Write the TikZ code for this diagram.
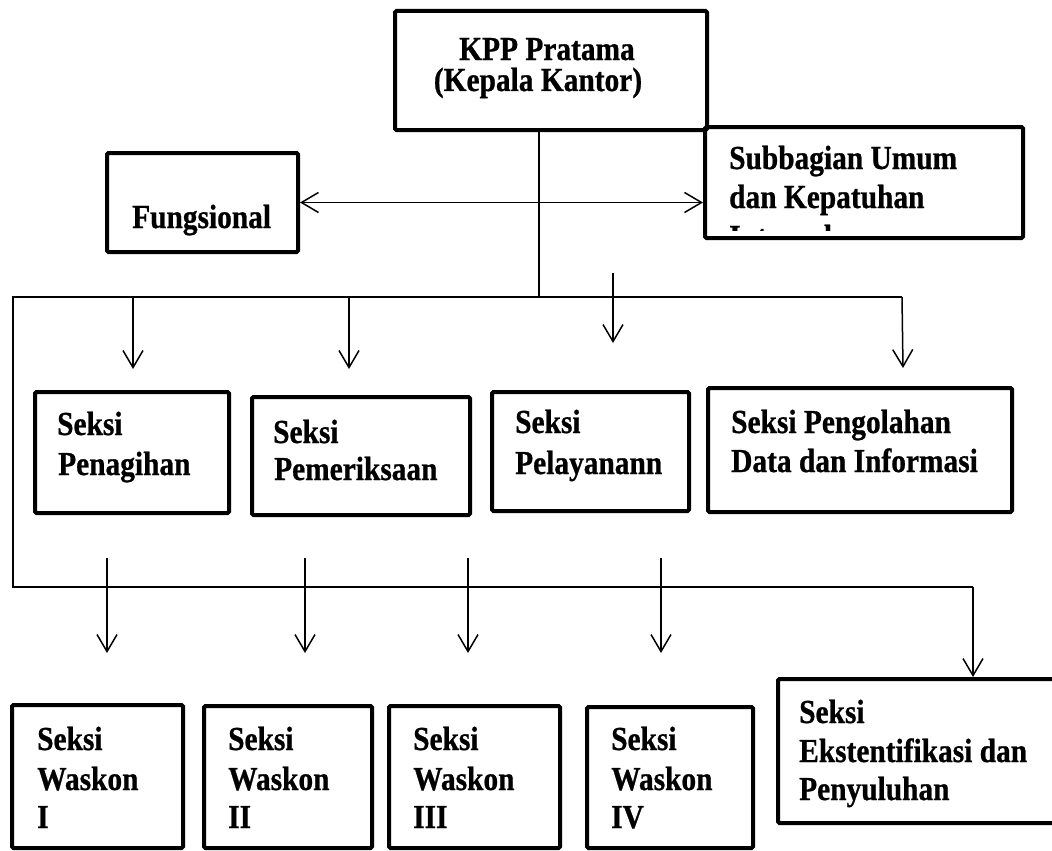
\documentclass[tikz,border=0pt]{standalone}
\usepackage{fontspec}
\usepackage{graphicx}
\setmainfont{Liberation Serif}[BoldFeatures={FakeBold=0.8}]
\usetikzlibrary{arrows.meta}
\newcommand\tallt[1]{\scalebox{0.98}[1.12]{#1}}
\begin{document}
\begin{tikzpicture}[x=1pt,y=-1pt,
  box/.style={draw, line width=4pt, inner sep=0pt, rounded corners=1.5pt},
  txt/.style={anchor=base west, inner sep=0pt, font=\bfseries\fontsize{30}{36}\selectfont},
  ctxt/.style={txt, anchor=base},
  conn/.style={line width=1.5pt},
  arr/.style={conn, -{Straight Barb[length=17pt,width=20pt]}},
  dbl/.style={conn, {Straight Barb[length=17pt,width=20pt]}-{Straight Barb[length=17pt,width=20pt]}}
]
\useasboundingbox (0,0) rectangle (1052,851);
\fill[white] (0,0) rectangle (1052,851);

% boxes
\node[box, minimum width=312pt, minimum height=119pt] (kpp) at (551,70.5) {};
\node[box, minimum width=191pt, minimum height=99pt] (fung) at (202.5,202.5) {};
\node[box, minimum width=318pt, minimum height=111pt] (sub) at (864,182.5) {};
\node[box, minimum width=194pt, minimum height=121pt] (pen) at (132,452.5) {};
\node[box, minimum width=218pt, minimum height=118pt] (pem) at (361,456) {};
\node[box, minimum width=197pt, minimum height=119pt] (pel) at (590.5,451.5) {};
\node[box, minimum width=304pt, minimum height=124pt] (pdi) at (860,450) {};
\node[box, minimum width=171pt, minimum height=143pt] (w1) at (97.5,776.5) {};
\node[box, minimum width=168pt, minimum height=142pt] (w2) at (288,777) {};
\node[box, minimum width=171pt, minimum height=142pt] (w3) at (474.5,777) {};
\node[box, minimum width=166pt, minimum height=141pt] (w4) at (670,777.5) {};
\node[box, minimum width=282pt, minimum height=144pt] (eks) at (919,751) {};

% texts
\node[ctxt] (kppa) at (547,60) {\tallt{KPP Pratama}};
\node[ctxt] (kppb) at (538,91) {\tallt{(Kepala Kantor)}};
\node[txt] (funga) at (132,228) {\tallt{Fungsional}};
\node[txt] (suba) at (729,169) {\tallt{Subbagian Umum}};
\node[txt] (subb) at (729,208) {\tallt{dan Kepatuhan}};
\begin{scope}
  \clip (712,224) rectangle (1015,230);
  \node[txt] (subc) at (729,248) {\tallt{Internal}};
\end{scope}
\node[txt] (pena) at (57,435) {\tallt{Seksi}};
\node[txt] (penb) at (58,475) {\tallt{Penagihan}};
\node[txt] (pema) at (273,443) {\tallt{Seksi}};
\node[txt] (pemb) at (274,480) {\tallt{Pemeriksaan}};
\node[txt] (pela) at (515,433) {\tallt{Seksi}};
\node[txt] (pelb) at (515,474) {\tallt{Pelayanann}};
\node[txt] (pdia) at (731,433) {\tallt{Seksi Pengolahan}};
\node[txt] (pdib) at (731,472) {\tallt{Data dan Informasi}};
\node[txt] (w1a) at (37,750) {\tallt{Seksi}};
\node[txt] (w1b) at (37,790) {\tallt{Waskon}};
\node[txt] (w1c) at (37,828) {\tallt{I}};
\node[txt] (w2a) at (228,750) {\tallt{Seksi}};
\node[txt] (w2b) at (228,790) {\tallt{Waskon}};
\node[txt] (w2c) at (228,828) {\tallt{II}};
\node[txt] (w3a) at (413,750) {\tallt{Seksi}};
\node[txt] (w3b) at (413,790) {\tallt{Waskon}};
\node[txt] (w3c) at (413,828) {\tallt{III}};
\node[txt] (w4a) at (611,750) {\tallt{Seksi}};
\node[txt] (w4b) at (611,790) {\tallt{Waskon}};
\node[txt] (w4c) at (611,828) {\tallt{IV}};
\node[txt] (eksa) at (799,723) {\tallt{Seksi}};
\node[txt] (eksb) at (799,762) {\tallt{Ekstentifikasi dan}};
\node[txt] (eksc) at (799,800) {\tallt{Penyuluhan}};

% connector coordinates
\coordinate (j0) at (539,297);
\coordinate (jL) at (13,297);
\coordinate (jR) at (902,297);
\coordinate (jB) at (13,587);
\coordinate (jE) at (973,587);
\coordinate (a1) at (133,297);  \coordinate (t1) at (133,369);
\coordinate (a2) at (349,297);  \coordinate (t2) at (349,369);
\coordinate (a3) at (613,273);  \coordinate (t3) at (613,343);
\coordinate (t4) at (903,368);
\coordinate (b1) at (107,558);  \coordinate (u1) at (107,653);
\coordinate (b2) at (305,558);  \coordinate (u2) at (305,653);
\coordinate (b3) at (468,558);  \coordinate (u3) at (468,653);
\coordinate (b4) at (661,558);  \coordinate (u4) at (661,653);

% connectors
\draw[conn] (j0 |- kpp.south) -- (j0);
\draw[conn] (jR) -- (jL) -- (jB) -- (jE);
\draw[dbl] (fung.east) -- (fung.east -| sub.west);
\draw[arr] (a1) -- (t1);
\draw[arr] (a2) -- (t2);
\draw[arr] (a3) -- (t3);
\draw[arr] (jR) -- (t4);
\draw[arr] (jE) -- (jE |- eks.north);
\draw[arr] (b1) -- (u1);
\draw[arr] (b2) -- (u2);
\draw[arr] (b3) -- (u3);
\draw[arr] (b4) -- (u4);
\end{tikzpicture}
\end{document}
